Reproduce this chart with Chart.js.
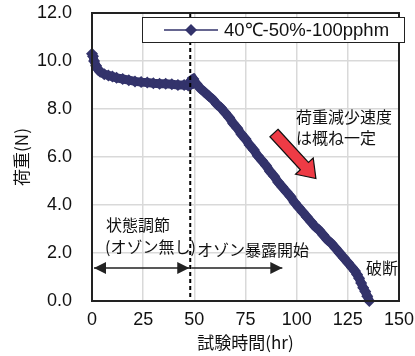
<!DOCTYPE html>
<html>
<head>
<meta charset="utf-8">
<script src="https://cdn.jsdelivr.net/npm/chart.js@4"></script>
<style>
  html, body { margin: 0; padding: 0; background: #fff; }
  #wrap { width: 415px; height: 356px; }
</style>
</head>
<body>
<div id="wrap"><canvas id="myChart" width="415" height="356"></canvas></div>
<script>
// test time (hr) and load (N)
const hours = [0, 0.5, 1, 2, 3, 4, 6, 8, 10, 12, 15, 18, 21, 24, 27, 30, 33, 36, 39, 42, 45, 47, 48,
    48.5, 49.5, 51, 53, 55, 57, 59, 61, 63, 65, 67, 69, 71, 73, 75, 77, 79, 81, 83, 85, 87, 89, 91,
    93, 95, 97, 99, 101, 103, 105, 107, 109, 111, 113, 115, 117, 119, 121, 123, 125, 127, 128.5,
    129.5, 130.5, 131.5, 132.5, 133.5, 134.5, 135.5];
const loads = [10.3, 10.2, 10.0, 9.8, 9.65, 9.55, 9.45, 9.4, 9.35, 9.3, 9.25, 9.2, 9.15, 9.12, 9.1, 9.07,
    9.05, 9.05, 9.03, 9.0, 9.0, 8.98, 9.0,
    9.2, 9.25, 9.05, 8.85, 8.7, 8.55, 8.4, 8.2, 8.05, 7.85, 7.65, 7.4, 7.2, 6.95, 6.75, 6.5, 6.3, 6.05,
    5.85, 5.65, 5.4, 5.2, 4.95, 4.75, 4.55, 4.35, 4.1, 3.9, 3.7, 3.5, 3.3, 3.1, 2.95, 2.75, 2.55, 2.4,
    2.2, 2.0, 1.8, 1.6, 1.4, 1.25, 1.1, 0.95, 0.75, 0.55, 0.4, 0.2, 0.0];
const seriesName = '40℃-50%-100pphm';
const xTicks = [0, 25, 50, 75, 100, 125, 150];
const yTicks = [0, 2, 4, 6, 8, 10, 12];
const ozoneStart = 48;

const navy = '#33336b';
const jp = '"Noto Sans CJK JP", sans-serif';
const latin = '"Liberation Sans", Arial, sans-serif';

const overlay = {
    id: 'overlay',
    afterDatasetsDraw(chart)
    {
        const { ctx, chartArea: a, scales: { x, y } } = chart;
        ctx.save();

        // ozone start dashed line
        const xs = x.getPixelForValue(ozoneStart);
        ctx.strokeStyle = '#000';
        ctx.lineWidth = 2;
        ctx.setLineDash([4, 3]);
        ctx.beginPath();
        ctx.moveTo(xs, a.top);
        ctx.lineTo(xs, a.bottom);
        ctx.stroke();
        ctx.setLineDash([]);

        // frame
        ctx.lineWidth = 2;
        ctx.strokeStyle = '#222';
        ctx.strokeRect(a.left, a.top, a.right - a.left, a.bottom - a.top);

        // arrows along the bottom
        const ya = y.getPixelForValue(1.375);
        const x0 = x.getPixelForValue(0) + 2;
        const x2 = x.getPixelForValue(93);
        const head = (tipX, dir) =>
        {
            ctx.beginPath();
            ctx.moveTo(tipX, ya);
            ctx.lineTo(tipX - dir * 12, ya - 6);
            ctx.lineTo(tipX - dir * 12, ya + 6);
            ctx.closePath();
            ctx.fill();
        };
        ctx.fillStyle = '#222';
        ctx.lineWidth = 1.5;
        ctx.beginPath();
        ctx.moveTo(x0, ya);
        ctx.lineTo(xs - 1, ya);
        ctx.moveTo(xs + 1, ya);
        ctx.lineTo(x2, ya);
        ctx.stroke();
        head(x0, -1);
        head(xs - 1, 1);
        head(x2, 1);

        // red arrow
        const tx = x.getPixelForValue(88.9), ty = y.getPixelForValue(7.0);
        const hx = x.getPixelForValue(109.4), hy = y.getPixelForValue(5.1);
        const ang = Math.atan2(hy - ty, hx - tx);
        const len = Math.hypot(hx - tx, hy - ty);
        ctx.translate(tx, ty);
        ctx.rotate(ang);
        ctx.beginPath();
        ctx.moveTo(0, -5.5);
        ctx.lineTo(len - 17, -5.5);
        ctx.lineTo(len - 17, -12);
        ctx.lineTo(len, 0);
        ctx.lineTo(len - 17, 12);
        ctx.lineTo(len - 17, 5.5);
        ctx.lineTo(0, 5.5);
        ctx.closePath();
        ctx.fillStyle = '#ee3b45';
        ctx.fill();
        ctx.strokeStyle = '#111';
        ctx.lineWidth = 1.2;
        ctx.stroke();
        ctx.setTransform(1, 0, 0, 1, 0, 0);

        // labels
        ctx.fillStyle = '#111';
        ctx.font = '16px ' + jp;
        ctx.textBaseline = 'middle';
        ctx.textAlign = 'left';
        ctx.fillText('状態調節', 106, 225);
        ctx.fillText('(オゾン無し)', 105, 247);
        ctx.fillText('オゾン暴露開始', 197, 250);
        ctx.fillText('荷重減少速度', 296, 117);
        ctx.fillText('は概ね一定', 296, 138);
        ctx.fillText('破断', 366, 268);

        // legend
        ctx.fillStyle = '#fff';
        ctx.fillRect(142, 17, 263, 26);
        ctx.strokeStyle = '#222';
        ctx.lineWidth = 1;
        ctx.strokeRect(142.5, 17.5, 262, 25);
        ctx.strokeStyle = navy;
        ctx.lineWidth = 1.5;
        ctx.beginPath();
        ctx.moveTo(164, 30);
        ctx.lineTo(218, 30);
        ctx.stroke();
        ctx.fillStyle = navy;
        ctx.beginPath();
        ctx.moveTo(191, 24);
        ctx.lineTo(197, 30);
        ctx.lineTo(191, 36);
        ctx.lineTo(185, 30);
        ctx.closePath();
        ctx.fill();
        ctx.fillStyle = '#111';
        ctx.font = '18.5px ' + latin;
        ctx.fillText(seriesName, 224, 31);

        ctx.restore();
    }
};

new Chart(document.getElementById('myChart').getContext('2d'), {
    type: 'line',
    data: {
        datasets: [
            {
                label: seriesName,
                data: hours.map((h, i) => ({ x: h, y: loads[i] })),
                borderColor: navy,
                backgroundColor: navy,
                borderWidth: 9,
                pointStyle: 'rectRot',
                pointRadius: 6,
                pointBorderWidth: 0,
                tension: 0,
                clip: 10,
            },
        ]
    },
    options: {
        responsive: false,
        animation: false,
        layout: {
            padding: { top: 0, right: 16, left: 0, bottom: 0 }
        },
        plugins: {
            legend: { display: false },
            tooltip: { enabled: false },
        },
        scales: {
            x: {
                type: 'linear',
                min: 0,
                max: 150,
                afterBuildTicks: (s) => { s.ticks = xTicks.map(v => ({ value: v })); },
                afterFit: (s) =>
                {
                    s.height = 55;
                    s.paddingLeft = 0;
                    s.paddingRight = 16;
                },
                grid: { color: '#d9d9d9', lineWidth: 1.5, drawTicks: false },
                border: { display: false },
                ticks: {
                    color: '#111',
                    padding: 8,
                    font: { family: latin, size: 18 },
                },
                title: {
                    display: true,
                    text: '試験時間(hr)',
                    color: '#111',
                    font: { family: jp, size: 17 },
                    padding: { top: 0, bottom: 3 },
                },
            },
            y: {
                type: 'linear',
                min: 0,
                max: 12,
                afterBuildTicks: (s) => { s.ticks = yTicks.map(v => ({ value: v })); },
                afterFit: (s) =>
                {
                    s.width = 92;
                    s.paddingTop = 13;
                    s.paddingBottom = 0;
                },
                grid: { color: '#d9d9d9', lineWidth: 1.5, drawTicks: false },
                border: { display: false },
                ticks: {
                    color: '#111',
                    padding: 20,
                    font: { family: latin, size: 18 },
                    callback: (v) => v.toFixed(1),
                },
                title: {
                    display: true,
                    text: '荷重(N)',
                    color: '#111',
                    font: { family: jp, size: 17 },
                    padding: { top: 11, bottom: 0 },
                },
            }
        }
    },
    plugins: [overlay]
});
</script>
</body>
</html>
